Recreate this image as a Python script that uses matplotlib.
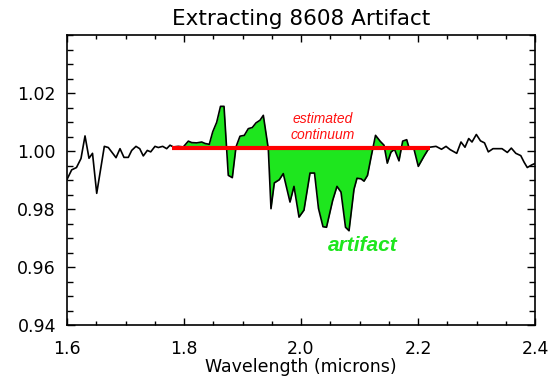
import numpy as np
import matplotlib
matplotlib.use("Agg")
import matplotlib.pyplot as plt
from matplotlib.ticker import MultipleLocator, FixedLocator

# Spectrum: wavelength (microns) and relative reflectance
wavelength = [
    1.6000, 1.6080, 1.6162, 1.6239, 1.6308, 1.6376, 1.6436, 1.6508, 1.6638, 1.6706,
    1.6838, 1.6906, 1.6974, 1.7048, 1.7106, 1.7179, 1.7243, 1.7304, 1.7373, 1.7431,
    1.7504, 1.7561, 1.7636, 1.7704, 1.7761, 1.7817, 1.7903, 1.7988, 1.8074, 1.8132,
    1.8217, 1.8303, 1.8359, 1.8432, 1.8491, 1.8559, 1.8624, 1.8684, 1.8757, 1.8826,
    1.8889, 1.8957, 1.9031, 1.9099, 1.9168, 1.9231, 1.9299, 1.9356, 1.9441, 1.9487,
    1.9544, 1.9629, 1.9697, 1.9812, 1.9880, 1.9966, 2.0051, 2.0154, 2.0231, 2.0299,
    2.0376, 2.0436, 2.0542, 2.0615, 2.0684, 2.0761, 2.0821, 2.0906, 2.0957, 2.1026,
    2.1077, 2.1137, 2.1197, 2.1274, 2.1356, 2.1419, 2.1475, 2.1538, 2.1598, 2.1675,
    2.1738, 2.1807, 2.1851, 2.1932, 2.2005, 2.2103, 2.2197, 2.2308, 2.2402, 2.2479,
    2.2547, 2.2662, 2.2735, 2.2803, 2.2867, 2.2923, 2.2997, 2.3068, 2.3137, 2.3202,
    2.3282, 2.3436, 2.3527, 2.3595, 2.3672, 2.3757, 2.3812, 2.3868, 2.3944, 2.4000,
]
reflectance = [
    0.9902, 0.9935, 0.9943, 0.9974, 1.0052, 0.9975, 0.9992, 0.9854, 1.0016, 1.0012,
    0.9977, 1.0008, 0.9978, 0.9978, 1.0002, 1.0016, 1.0008, 0.9983, 1.0002, 0.9997,
    1.0016, 1.0012, 1.0016, 1.0008, 1.0020, 1.0014, 1.0016, 1.0014, 1.0034, 1.0029,
    1.0028, 1.0031, 1.0026, 1.0023, 1.0066, 1.0099, 1.0154, 1.0154, 0.9916, 0.9908,
    1.0014, 1.0051, 1.0054, 1.0077, 1.0081, 1.0097, 1.0106, 1.0123, 1.0008, 0.9801,
    0.9890, 0.9901, 0.9922, 0.9824, 0.9878, 0.9772, 0.9796, 0.9924, 0.9924, 0.9802,
    0.9739, 0.9737, 0.9830, 0.9878, 0.9858, 0.9737, 0.9725, 0.9868, 0.9906, 0.9904,
    0.9896, 0.9916, 0.9978, 1.0054, 1.0033, 1.0020, 0.9958, 0.9996, 1.0006, 0.9966,
    1.0034, 1.0039, 1.0008, 1.0006, 0.9947, 0.9982, 1.0013, 1.0016, 1.0006, 1.0016,
    1.0005, 0.9992, 1.0031, 1.0013, 1.0043, 1.0031, 1.0057, 1.0035, 1.0028, 0.9997,
    1.0008, 1.0008, 0.9995, 1.0010, 0.9992, 0.9984, 0.9962, 0.9943, 0.9952, 0.9957,
]

# Estimated continuum level and the wavelength span it covers
continuum_level = 1.0012
continuum_range = [1.78, 2.22]

title = "Extracting 8608 Artifact"
x_label = "Wavelength (microns)"
x_limits = [1.6, 2.4]
y_limits = [0.94, 1.04]
x_ticks = [1.6, 1.8, 2.0, 2.2, 2.4]
y_ticks = [0.94, 0.96, 0.98, 1.00, 1.02]

wl = np.asarray(wavelength)
refl = np.asarray(reflectance)

fig = plt.figure(figsize=(5.5, 3.76), dpi=100)
ax = fig.add_axes([67 / 550, 1 - 325 / 376, 468 / 550, 290 / 376])

# Portion of the spectrum within the continuum span, with exact end points
lo, hi = continuum_range
inside = (wl > lo) & (wl < hi)
seg_x = np.concatenate([[lo], wl[inside], [hi]])
seg_y = np.concatenate([[np.interp(lo, wl, refl)], refl[inside], [np.interp(hi, wl, refl)]])

green = "#1ee61e"
ax.fill_between(seg_x, seg_y, continuum_level, color=green, linewidth=0, zorder=1)
ax.plot(wl, refl, color="black", linewidth=1.2, zorder=2)
ax.plot(continuum_range, [continuum_level, continuum_level], color="#ff0000",
        linewidth=3.0, solid_capstyle="butt", zorder=3)

ax.text(2.0376, 1.0083, "estimated\ncontinuum", color="#ff1010", fontsize=10,
        fontstyle="italic", family="Liberation Sans", ha="center", va="center",
        linespacing=1.15, zorder=4)
ax.text(2.106, 0.9675, "artifact", color=green, fontsize=15, fontstyle="italic",
        fontweight="bold", family="Liberation Sans", ha="center", va="center", zorder=4)

ax.set_xlim(x_limits)
ax.set_ylim(y_limits)
ax.xaxis.set_major_locator(FixedLocator(x_ticks))
ax.xaxis.set_minor_locator(MultipleLocator(0.05))
ax.yaxis.set_major_locator(FixedLocator(y_ticks))
ax.yaxis.set_minor_locator(MultipleLocator(0.005))
ax.xaxis.set_major_formatter(plt.FormatStrFormatter("%.1f"))
ax.yaxis.set_major_formatter(plt.FormatStrFormatter("%.2f"))

ax.tick_params(axis="both", which="both", direction="in", top=True, right=True,
               labelsize=12.5, width=1.0, colors="black")
ax.tick_params(axis="x", which="major", length=5, pad=11)
ax.tick_params(axis="x", which="minor", length=3)
ax.tick_params(axis="y", which="major", length=6, pad=8)
ax.tick_params(axis="y", which="minor", length=4)
for side in ax.spines.values():
    side.set_linewidth(1.2)

ax.set_title(title, fontsize=15.5, pad=7)
ax.set_xlabel(x_label, fontsize=12.5, labelpad=0)

fig.savefig("out.png", dpi=100)
